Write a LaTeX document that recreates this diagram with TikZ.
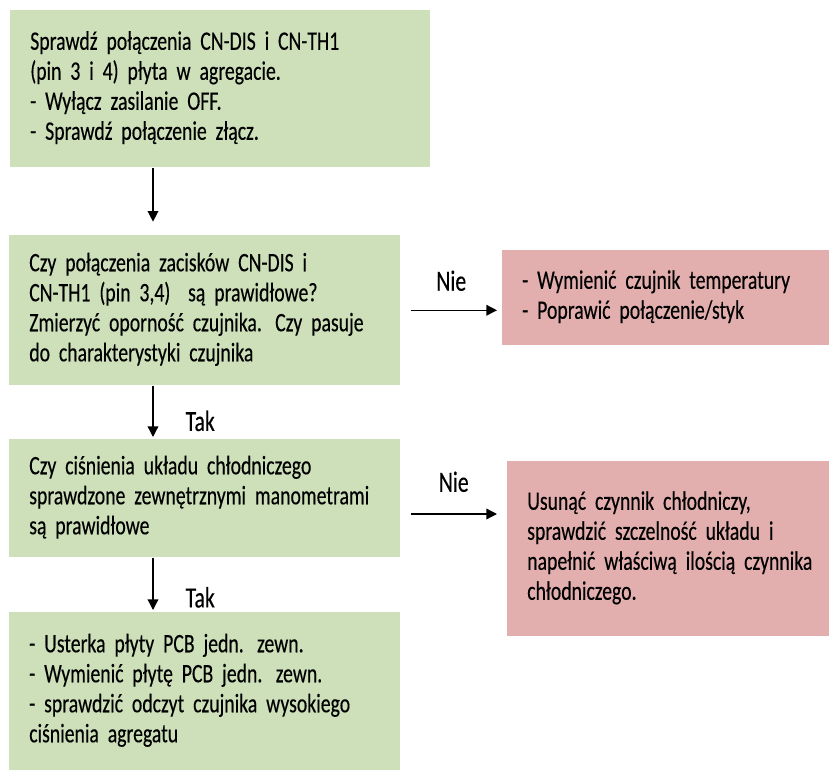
\documentclass[tikz,border=0pt]{standalone}
\usepackage{fontspec}
\setmainfont{Carlito}[FakeStretch=0.74,FakeBold=0.3]
\usetikzlibrary{arrows.meta,calc}
\definecolor{okgreen}{RGB}{205,224,185}
\definecolor{badred}{RGB}{226,174,174}
% one unbreakable block of lines, left aligned
\newcommand{\boxlines}[1]{\begin{tabular}{@{}l@{}}#1\end{tabular}}

\begin{document}
\begin{tikzpicture}[x=0.75pt,y=-0.75pt,>={Triangle[length=8pt,width=8pt]},
    box/.style={anchor=north west,inner xsep=15pt,inner ysep=0pt,align=left,
      font={\fontsize{20}{22.5}\selectfont\fontdimen2\font=0.15em}},
    okbox/.style={box,fill=okgreen},
    badbox/.style={box,fill=badred},
    flow/.style={->,line width=1pt},
    answer/.style={inner sep=0pt,font={\fontsize{22}{24}\selectfont}}]
    % Page in pixel units, origin top left
    \useasboundingbox (0,0) rectangle (829,771);
    \coordinate (spine) at (153,0);   % x of the vertical arrows
    \coordinate (lvlB) at (0,514);    % y of the second "Nie" arrow
    % Main column (green)
    \node[okbox,minimum width=315pt,minimum height=117.75pt,text width=285pt] (chk1) at (10,10)
      {\boxlines{Sprawdź połączenia CN-DIS i CN-TH1\\(pin 3 i 4) płyta w agregacie.\\- Wyłącz zasilanie OFF.\\- Sprawdź połączenie złącz.}};
    \node[okbox,minimum width=293.25pt,minimum height=112.5pt,text width=263.25pt] (chk2) at (9,235)
      {\boxlines{Czy połączenia zacisków CN-DIS i\\CN-TH1 (pin 3,4)\ \ są prawidłowe?\\Zmierzyć oporność czujnika. Czy pasuje\\do charakterystyki czujnika}};
    \node[okbox,minimum width=293.25pt,minimum height=88.5pt,text width=263.25pt] (chk3) at (9,439)
      {\boxlines{Czy ciśnienia układu chłodniczego\\sprawdzone zewnętrznymi manometrami\\są prawidłowe}};
    \node[okbox,minimum width=293.25pt,minimum height=118.5pt,text width=263.25pt] (pcb) at (9,612)
      {\boxlines{- Usterka płyty PCB jedn. zewn.\\- Wymienić płytę PCB jedn. zewn.\\- sprawdzić odczyt czujnika wysokiego\\ciśnienia agregatu}};
    % Side boxes (red)
    \node[badbox,minimum width=245.25pt,minimum height=71.25pt,text width=215.25pt] (fixA) at (502,250)
      {\boxlines{- Wymienić czujnik temperatury\\- Poprawić połączenie/styk}};
    \node[badbox,minimum width=241.5pt,minimum height=131.25pt,text width=211.5pt] (fixB) at (507,461)
      {\boxlines{Usunąć czynnik chłodniczy,\\sprawdzić szczelność układu i\\napełnić właściwą ilością czynnika\\chłodniczego.}};
    % Vertical arrows
    \draw[flow,shorten >=10pt] (chk1.south -| spine) -- (chk2.north -| spine);
    \draw[flow,shorten >=1.5pt] (chk2.south -| spine) -- (chk3.north -| spine)
      node[answer,pos=0.66,right=24pt] {Tak};
    \draw[flow,shorten >=1.5pt] (chk3.south -| spine) -- (pcb.north -| spine)
      node[answer,pos=0.73,right=24pt] {Tak};
    % Horizontal arrows
    \draw[flow,shorten <=7.5pt,shorten >=3.75pt] (chk2.east) -- (chk2.east -| fixA.west)
      node[answer,midway,above=14pt] {Nie};
    \draw[flow,shorten <=8pt,shorten >=7.5pt] (chk3.east |- lvlB) -- (fixB.west |- lvlB)
      node[answer,midway,above=16pt] {Nie};
\end{tikzpicture}
\end{document}
